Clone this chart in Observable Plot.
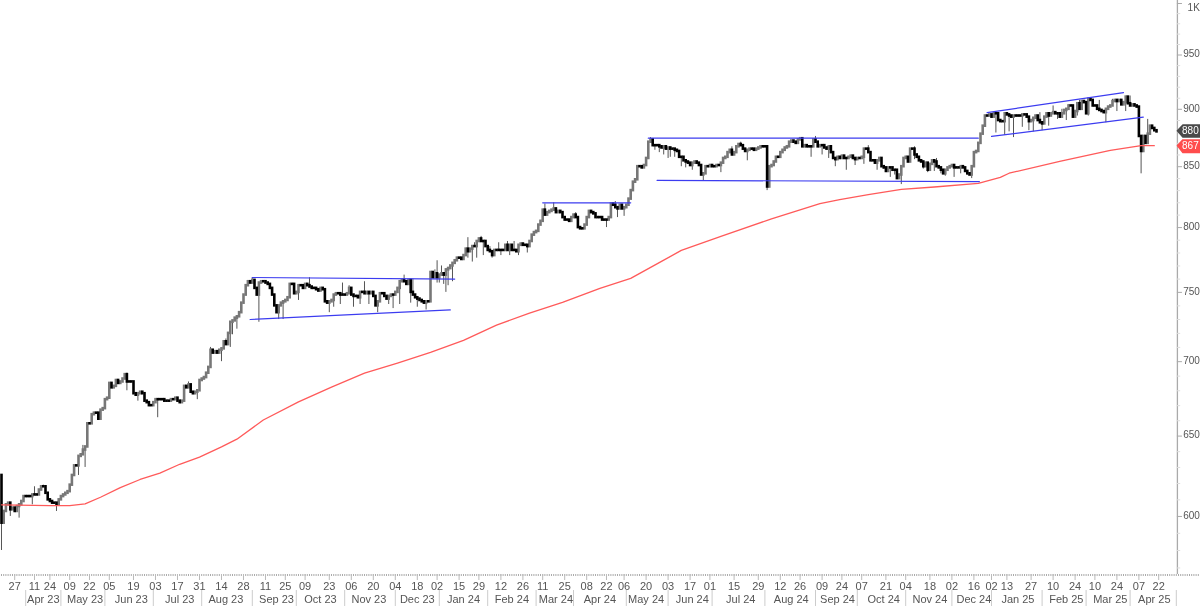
<!DOCTYPE html>
<html><head><meta charset="utf-8">
<script src="https://cdn.jsdelivr.net/npm/d3@7"></script>
<script src="https://cdn.jsdelivr.net/npm/@observablehq/plot@0.6"></script>
<style>html,body{margin:0;padding:0;background:#fff;overflow:hidden}svg{display:block;filter:blur(.35px)}</style>
</head><body><div id="chart"></div>
<script>
const firstOpen = 625;
const closesA = [596,603,607,608,604,605,603,606,607,609,612,612,612,612,613,613,613,616,618,618,614,610,609,608,608,607,610,612,613,614,615,619,625,631,631,637,638,641,643,658,658,664,665,665,661,667,668,674,675,685,682,683,687,685,686,688,691,686,686,686,678,677,678,679,678,673,672,670,670,672,674,674];
const closesB = [674,674,673,673,673,674,674,675,673,672,673,683,682,684,679,678,679,680,687,688,689,692,696,708,706,707,706,708,709,714,712,720,728,729,731,732,735,742,748,755,758,757,759,753,748,757,758,758,757,756,753,748,740,735,740,742,743,744,746,756,756,749,750,755];
const closesC = [755,753,756,755,754,753,753,752,751,753,752,743,742,743,744,748,749,749,748,748,748,749,753,748,747,747,746,750,750,749,750,749,750,747,740,743,749,749,747,745,747,748,748,750,753,758,759,758,756,759,750,748,746,745,744,743,742,743,743,765,761,764,761,763,764,763,767,768,770,772,774];
const closesD = [776,776,775,778,783,781,783,785,785,789,791,789,789,785,782,781,778,782,782,782,782,782,786,782,786,782,782,781,786,787,786,786,785,789,794,796,797,802,805,814,810,812,813,814,815,812,813,812,808,806,806,805,808,810,808,800,799,799,802,808,813,812,811,808,808,808,806,806,806,808,819,818,816,815,818,815,816,818,823,830];
const closesE = [837,839,850,850,849,851,857,871,873,868,868,868,867,866,867,865,866,865,865,864,863,858,858,855,854,853,851,853,854,853,851,843,844,850,850,851,850,850,851,851,853,857,858,862,864,860,862,867,869,868,865,863,864,865,865,864,865,866,867,867,867,833,850,851,854,858,858,862,864,866,867,871,872,871,870,873,874,867,868,867,867,867,873,871,867];
const closesF = [868,868,866,865,867,862,857,856,858,857,859,857,857,858,859,857,856,857,857,858,865,865,862,855,855,853,855,857,850,849,846,849,849,847,847,840,843,850,857,858,854,865,865,860,858,855,854,850,853,847,852,855,854,850,849,847,844,847,849,850,851,849,849,849,850,849,846,844,843,850,862,863,870,878,885];
const closesG = [894,894,895,893,896,896,890,889,889,896,895,894,893,894,894,894,894,895,895,893,889,890,892,894,890,888,887,893,896,894,896,897,896,896,893,896,899,900,903,903,893,898,905,900,907,906,896,909,908,903,903,900,899,898,897,900,902,903,907,908,907,908,904,906,911,905,903,904,903,902,876,863,876,870,878,885,883,881,880];

const lowWicks = [[0,580],[4,600],[8,599],[14,607],[25,603],[35,625],[38,630],[57,680],[62,673],[71,662],[89,674],[100,700],[104,710],[105,719],[107,723],[117,728],[126,730],[128,730],[135,744],[149,735],[151,739],[154,741],[160,739],[163,741],[167,741],[171,735],[176,741],[178,738],[181,741],[186,742],[189,739],[193,737],[198,757],[199,757],[201,756],[202,750],[203,755],[205,758],[212,776],[214,773],[216,776],[219,778],[223,776],[227,778],[231,778],[235,778],[239,780],[275,800],[280,808],[283,809],[297,864],[299,862],[301,860],[303,857],[304,858],[306,858],[309,850],[311,849],[314,847],[319,838],[327,845],[339,855],[348,830],[368,858],[373,860],[376,857],[379,850],[384,847],[388,851],[392,852],[398,847],[401,848],[404,841],[406,843],[409,835],[415,856],[419,848],[421,845],[424,846],[427,844],[429,842],[433,841],[436,844],[439,843],[441,840],[452,879],[456,877],[458,880],[460,875],[464,884],[467,881],[469,880],[473,881],[476,885],[480,891],[484,890],[489,894],[494,894],[502,888],[507,898],[511,898],[518,844]];
const highWicks = [[15,618],[19,619],[37,644],[57,692],[85,686],[95,710],[102,716],[114,761],[140,761],[155,757],[158,755],[165,758],[183,763],[187,760],[197,767],[198,774],[200,770],[203,769],[206,772],[212,792],[215,788],[218,793],[222,785],[226,788],[230,789],[233,789],[247,819],[251,820],[261,812],[279,821],[295,875],[332,867],[336,871],[364,875],[370,876],[394,868],[415,867],[425,857],[466,896],[472,897],[478,903],[482,900],[485,904],[490,908],[495,910],[499,908],[505,909],[513,912],[521,891]];

const maSessions = [0,22,31,38,45,54,63,72,81,90,100,107,119,135,150,165,180,195,210,225,240,255,272,286,300,309,327,350,372,381,394,409,424,444,454,458,481,504,518,524];
const maPrices = [607,606.5,606.5,607.6,611.6,617.5,622.5,626.4,632,636.5,643,648,660.5,672.5,682.5,692,699,706.5,715,726,734.6,742.5,753,760.5,773.5,782,793,807,819.4,822.6,826.7,831,833,836,841,844.5,854.6,864,868,868];

const trendLines = [
  [[114,761.2],[206,760]], [[113,730],[204,737]], [[246,820],[286,820]],
  [[294,874.5],[444,874.5]], [[298,838.5],[444.5,837.5]],
  [[448,897],[510,915]], [[450,876],[519,893]]
];

const yTicks = [1000,950,900,850,800,750,700,650,600];
const yTickLabels = ["1K","950","900","850","800","750","700","650","600"];
const yMinorTicks = [990,980,970,960,940,930,920,910,890,880,870,860,840,830,820,810,790,780,770,760,740,730,720,710,690,680,670,660,640,630,620,610,590,580,570];

const dayLabels = ["27","11","24","09","22","05","19","03","17","31","14","28","11","25","09","23","06","20","04","18","02","15","29","12","26","11","25","08","22","06","20","03","17","01","15","29","12","26","09","24","07","21","04","18","02","16","02","13","27","10","24","10","24","07","22"];
const daySessions = [6,15,22,31,40,49,60,70,80,90,100,110,120,129,138,149,159,169,179,189,198,208,217,227,237,246,256,266,275,283,293,303,313,322,333,344,354,363,373,382,391,402,411,422,432,442,450,457,468,478,488,497,507,517,526];
const monthLabels = ["Apr 23","May 23","Jun 23","Jul 23","Aug 23","Sep 23","Oct 23","Nov 23","Dec 23","Jan 24","Feb 24","Mar 24","Apr 24","May 24","Jun 24","Jul 24","Aug 24","Sep 24","Oct 24","Nov 24","Dec 24","Jan 25","Feb 25","Mar 25","Apr 25"];
const monthSessions = [19,38,59,81,102,125,145,167,189,210,232,252,272,293,314,336,359,380,401,422,442,462,484,504,524];
const monthBreaks = [11,27,47,69,91,114,134,156,179,199,221,243,260,284,303,323,347,370,389,411,432,450,473,493,513,534];

const lastPrice = 880, maLast = 867;

const closes = [...closesA,...closesB,...closesC,...closesD,...closesE,...closesF,...closesG];
const highMap = new Map(highWicks), lowMap = new Map(lowWicks);
const candles = closes.map((c,i)=>{
  const o = i ? closes[i-1] : firstOpen;
  return {i, o, c, h: highMap.get(i) ?? Math.max(o,c), l: lowMap.get(i) ?? Math.min(o,c)};
});
const ma = maSessions.map((s,k)=>({s,p:maPrices[k]}));
const axisSession = 534.5;
const tag = (v,top,bot,color)=>Plot.line(
  [[axisSession,v],[537,top],[545,top],[545,bot],[537,bot]],
  {x:d=>d[0],y:d=>d[1],fill:color,stroke:color,curve:"linear-closed"});

const chart = Plot.plot({
  width:1200,height:606,marginTop:0,marginLeft:0,marginRight:0,marginBottom:32,
  style:{fontFamily:"'Liberation Sans',Arial,sans-serif",background:"#fff"},
  x:{type:"linear",domain:[-0.4545,545],range:[0,1200],axis:null},
  y:{type:"log",domain:[1003,566.3],range:[0,574],axis:null},
  marks:[
    Plot.axisX(d3.range(0,545),{anchor:"bottom",tickSize:2,tickFormat:()=>"",stroke:"#aaa",label:null}),
    Plot.axisX(daySessions,{anchor:"bottom",tickSize:6,tickPadding:2,stroke:"#bbb",fontSize:11,fill:"#555",tickFormat:(d)=>dayLabels[daySessions.indexOf(d)],label:null}),
    Plot.axisX(monthSessions,{anchor:"bottom",tickSize:0,tickPadding:21,fontSize:11,fill:"#555",tickFormat:(d)=>monthLabels[monthSessions.indexOf(d)],label:null}),
    Plot.axisX(monthBreaks,{anchor:"bottom",tickSize:16,dy:16,stroke:"#ccc",tickFormat:()=>"",label:null}),
    Plot.ruleX([axisSession],{stroke:"#aaa",strokeWidth:1.3}),
    Plot.ruleY(yMinorTicks,{x1:axisSession,x2:536,stroke:"#ddd"}),
    Plot.ruleY(yTicks,{x1:axisSession,x2:536.8,stroke:"#aaa"}),
    Plot.text(yTicks.slice(1),{x:544.7,y:d=>d,dy:-1,textAnchor:"end",text:(d,i)=>yTickLabels[i+1],fontSize:10,fill:"#555"}),
    Plot.text(yTicks.slice(0,1),{x:544.7,y:d=>d,dy:4,textAnchor:"end",text:()=>yTickLabels[0],fontSize:10,fill:"#555"}),
    Plot.ruleX(candles,{x:"i",y1:"l",y2:"h",stroke:"#555",strokeWidth:1}),
    Plot.ruleX(candles.filter(d=>d.c>d.o),{x:"i",y1:"o",y2:"c",stroke:"#777",strokeWidth:2.6,strokeLinecap:"square"}),
    Plot.ruleX(candles.filter(d=>d.c<=d.o),{x:"i",y1:"o",y2:"c",stroke:"#000",strokeWidth:2.6,strokeLinecap:"square"}),
    Plot.line(ma,{x:"s",y:"p",stroke:"#ff5a5a",strokeWidth:1.3}),
    ...trendLines.map(l=>Plot.line(l,{x:d=>d[0],y:d=>d[1],stroke:"#3c3cf0",strokeWidth:1.2})),
    tag(881,886,875.5,"#4a4a4a"),
    tag(868,873,862,"#ff4d4d"),
    Plot.text([lastPrice],{x:540.4,y:881,text:d=>String(d),fill:"#fff",fontSize:10}),
    Plot.text([maLast],{x:540.4,y:868,text:d=>String(d),fill:"#fff",fontSize:10})
  ]
});
document.getElementById("chart").append(chart);
</script></body></html>
